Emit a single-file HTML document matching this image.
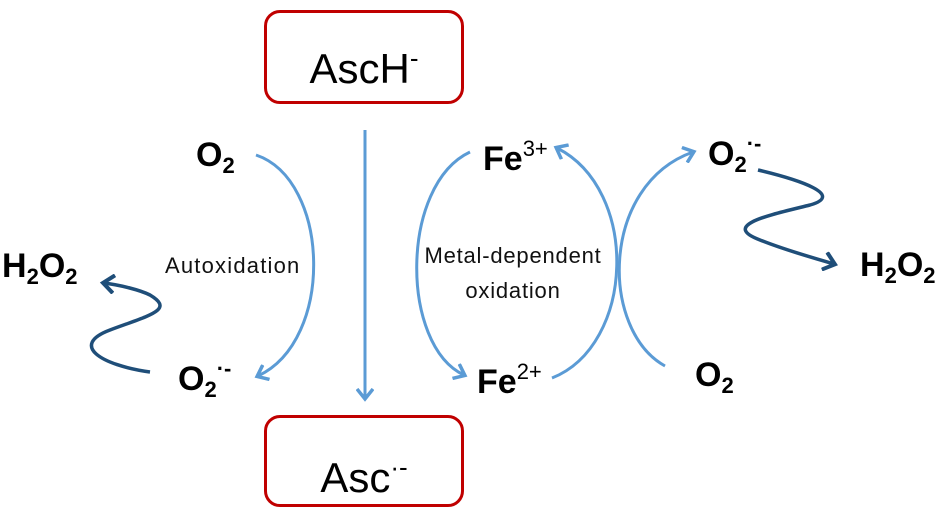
<!DOCTYPE html><html><head><style>
body{margin:0;width:950px;height:522px;background:#fff;position:relative;overflow:hidden;font-family:"Liberation Sans",sans-serif}
.box{position:absolute;left:264px;width:194px;border:3px solid #c00000;border-radius:16px;background:#fff;text-align:center;font-size:42px;color:#000}
.t{position:absolute;font-weight:bold;font-size:34px;line-height:1;color:#000;white-space:nowrap}
.s{position:absolute;font-size:22px;color:#111;white-space:nowrap;text-align:center}
sub{font-size:22px;vertical-align:-7px}
sup{font-size:22px;vertical-align:14px;font-weight:normal}
.bs{font-weight:bold}
</style></head><body>
<svg width="950" height="522" style="position:absolute;left:0;top:0">
<defs>
<marker id="a" markerWidth="16" markerHeight="18" refX="10" refY="9" orient="auto" markerUnits="userSpaceOnUse"><path d="M1,1 L11,9 L1,17" fill="none" stroke="#5b9bd5" stroke-width="3.5"/></marker>
<marker id="d" markerWidth="18" markerHeight="20" refX="11" refY="10" orient="auto" markerUnits="userSpaceOnUse"><path d="M1,1 L12,10 L1,19" fill="none" stroke="#1f4e79" stroke-width="4"/></marker>
</defs>
<g fill="none" stroke="#5b9bd5" stroke-width="3">
<path d="M365,130 L365,398" marker-end="url(#a)"/>
<path d="M256,155 C330,180 335,340 258,376" marker-end="url(#a)"/>
<path d="M470,152 C400,185 400,345 464,375" marker-end="url(#a)"/>
<path d="M552,378 C635,345 640,190 557,148" marker-end="url(#a)"/>
<path d="M665,366 C600,330 600,185 693,152" marker-end="url(#a)"/>
</g>
<g fill="none" stroke="#1f4e79" stroke-width="3.5">
<path d="M150,372 C100,365 70,345 110,330 C150,315 175,310 150,295 C140,290 120,285 104,283" marker-end="url(#d)"/>
<path d="M758,170 C800,180 845,195 810,205 C770,215 720,225 760,240 C790,252 815,258 834,264" marker-end="url(#d)"/>
</g>
</svg>
<div class="box" style="top:10px;height:88px;line-height:90px">AscH<sup style="font-size:26px;vertical-align:16px">-</sup></div>
<div class="box" style="top:415px;height:86px;line-height:98px">Asc<sup style="font-size:26px;vertical-align:16px">·-</sup></div>
<div class="t" style="left:196px;top:138px">O<sub>2</sub></div>
<div class="t" style="left:178px;top:358px">O<sub>2</sub><sup class="bs">·-</sup></div>
<div class="t" style="left:2px;top:249px">H<sub>2</sub>O<sub>2</sub></div>
<div class="s" style="left:165px;top:253px;letter-spacing:1.2px">Autoxidation</div>
<div class="t" style="left:483px;top:138px">Fe<sup>3+</sup></div>
<div class="t" style="left:477px;top:361px">Fe<sup>2+</sup></div>
<div class="s" style="left:414px;top:238px;width:198px;line-height:35px;letter-spacing:0.8px">Metal-dependent<br>oxidation</div>
<div class="t" style="left:708px;top:133px">O<sub>2</sub><sup class="bs">·-</sup></div>
<div class="t" style="left:695px;top:358px">O<sub>2</sub></div>
<div class="t" style="left:860px;top:248px">H<sub>2</sub>O<sub>2</sub></div>
</body></html>
